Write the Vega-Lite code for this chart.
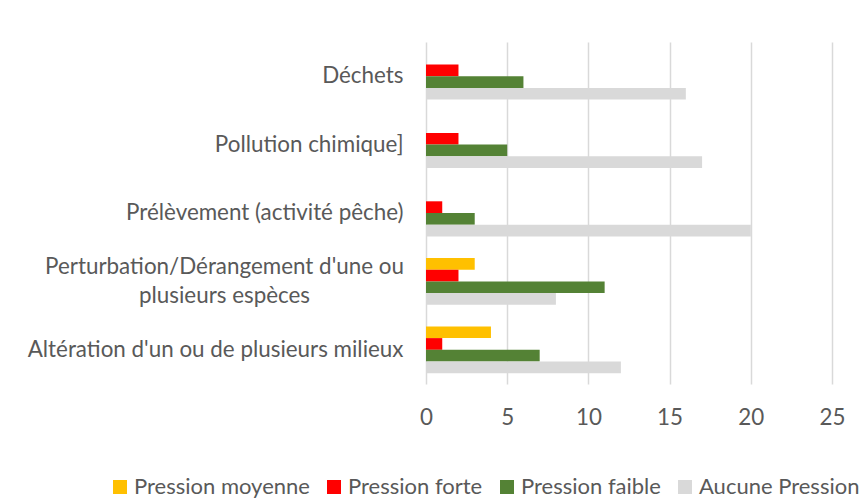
{
  "$schema": "https://vega.github.io/schema/vega-lite/v6.json",
  "autosize": {"type": "none"},
  "padding": {"left": 426, "top": 42, "right": 28, "bottom": 117},
  "width": 406,
  "height": 342,
  "background": "white",
  "config": {
    "view": {"stroke": null},
    "font": "Lato",
    "axis": {"labelFont": "Lato", "labelColor": "#595959", "labelFontSize": 22.4},
    "legend": {"labelFont": "Lato", "labelColor": "#595959", "labelFontSize": 22}
  },
  "data": {
    "values": [
      {"cat": "Déchets", "serie": "Pression moyenne", "v": 0},
      {"cat": "Déchets", "serie": "Pression forte", "v": 2},
      {"cat": "Déchets", "serie": "Pression faible", "v": 6},
      {"cat": "Déchets", "serie": "Aucune Pression", "v": 16},
      {"cat": "Pollution chimique]", "serie": "Pression moyenne", "v": 0},
      {"cat": "Pollution chimique]", "serie": "Pression forte", "v": 2},
      {"cat": "Pollution chimique]", "serie": "Pression faible", "v": 5},
      {"cat": "Pollution chimique]", "serie": "Aucune Pression", "v": 17},
      {"cat": "Prélèvement (activité pêche)", "serie": "Pression moyenne", "v": 0},
      {"cat": "Prélèvement (activité pêche)", "serie": "Pression forte", "v": 1},
      {"cat": "Prélèvement (activité pêche)", "serie": "Pression faible", "v": 3},
      {"cat": "Prélèvement (activité pêche)", "serie": "Aucune Pression", "v": 20},
      {"cat": "Perturbation/Dérangement d'une ou|plusieurs espèces", "serie": "Pression moyenne", "v": 3},
      {"cat": "Perturbation/Dérangement d'une ou|plusieurs espèces", "serie": "Pression forte", "v": 2},
      {"cat": "Perturbation/Dérangement d'une ou|plusieurs espèces", "serie": "Pression faible", "v": 11},
      {"cat": "Perturbation/Dérangement d'une ou|plusieurs espèces", "serie": "Aucune Pression", "v": 8},
      {"cat": "Altération d'un ou de plusieurs milieux", "serie": "Pression moyenne", "v": 4},
      {"cat": "Altération d'un ou de plusieurs milieux", "serie": "Pression forte", "v": 1},
      {"cat": "Altération d'un ou de plusieurs milieux", "serie": "Pression faible", "v": 7},
      {"cat": "Altération d'un ou de plusieurs milieux", "serie": "Aucune Pression", "v": 12}
    ]
  },
  "mark": {"type": "bar"},
  "encoding": {
    "y": {
      "field": "cat",
      "type": "nominal",
      "sort": null,
      "scale": {"paddingInner": 0.316, "paddingOuter": 0.158},
      "axis": {
        "title": null,
        "domain": false,
        "ticks": false,
        "grid": false,
        "labelLimit": 0,
        "labelLineHeight": 29,
        "labelExpr": "split(datum.label, '|')",
        "labelAlign": {"condition": {"test": "indexof(datum.value, '|') >= 0", "value": "center"}, "value": "right"},
        "labelPadding": {"condition": {"test": "indexof(datum.value, '|') >= 0", "value": 202}, "value": 23},
        "labelOffset": {"condition": {"test": "indexof(datum.value, '|') >= 0", "value": -14}, "value": 0}
      }
    },
    "yOffset": {
      "field": "serie",
      "type": "nominal",
      "sort": ["Pression moyenne", "Pression forte", "Pression faible", "Aucune Pression"],
      "scale": {"paddingInner": 0, "paddingOuter": 0}
    },
    "x": {
      "field": "v",
      "type": "quantitative",
      "scale": {"domain": [0, 25], "nice": false},
      "axis": {
        "title": null,
        "values": [0, 5, 10, 15, 20, 25],
        "domain": false,
        "ticks": false,
        "grid": true,
        "gridColor": "#D9D9D9",
        "gridWidth": 1.5,
        "labelFlush": false,
        "labelPadding": 22
      }
    },
    "color": {
      "field": "serie",
      "type": "nominal",
      "sort": ["Pression moyenne", "Pression forte", "Pression faible", "Aucune Pression"],
      "scale": {
        "domain": ["Pression moyenne", "Pression forte", "Pression faible", "Aucune Pression"],
        "range": ["#FFC000", "#FF0000", "#548235", "#D9D9D9"]
      },
      "legend": {
        "title": null,
        "orient": "none",
        "direction": "horizontal",
        "columns": 4,
        "padding": 0,
        "legendX": -317,
        "legendY": 434,
        "symbolType": "square",
        "symbolSize": 196,
        "symbolStrokeWidth": 0,
        "labelOffset": 3,
        "columnPadding": 13,
        "labelLimit": 0
      }
    }
  }
}
